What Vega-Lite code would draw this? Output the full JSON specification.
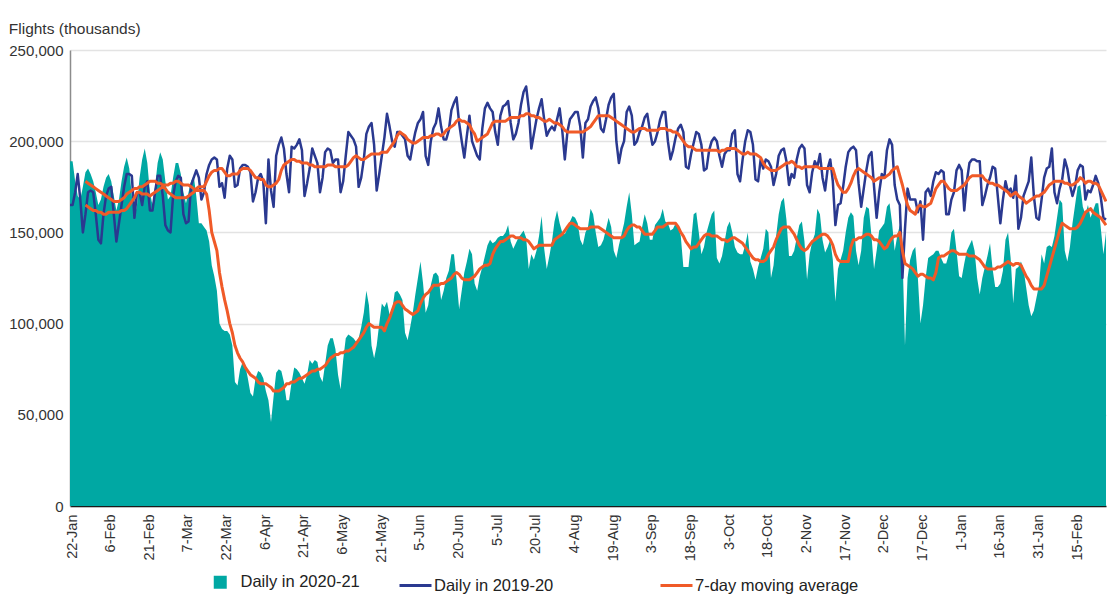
{
"$schema": "https://vega.github.io/schema/vega-lite/v6.json",
"width": 1036,
"height": 456,
"autosize": {"type": "none"},
"padding": {"left": 70, "top": 50, "right": 1, "bottom": 89},
"background": "white",
"title": {"text": "Flights (thousands)", "anchor": "start", "frame": "bounds", "font": "Liberation Sans, Arial, sans-serif", "fontSize": 15.5, "fontWeight": "normal", "color": "#333333", "baseline": "alphabetic", "offset": -6},
"data": {"values": [
{"d":"2020-01-22","a":189000,"b":165000},
{"d":"2020-01-23","a":189000,"b":165000},
{"d":"2020-01-24","a":178000,"b":172000},
{"d":"2020-01-25","a":170000,"b":182000},
{"d":"2020-01-26","a":168000,"b":168000},
{"d":"2020-01-27","a":175000,"b":150000},
{"d":"2020-01-28","a":183000,"b":160000,"ma":178000,"mb":165000},
{"d":"2020-01-29","a":185000,"b":172000,"ma":177000,"mb":164000},
{"d":"2020-01-30","a":182000,"b":173000,"ma":176000,"mb":163000},
{"d":"2020-01-31","a":178000,"b":172000,"ma":175000,"mb":162000},
{"d":"2020-02-01","a":172000,"b":160000,"ma":174000,"mb":162000},
{"d":"2020-02-02","a":165000,"b":146000,"ma":173000,"mb":161000},
{"d":"2020-02-03","a":168000,"b":144000,"ma":172000,"mb":161000},
{"d":"2020-02-04","a":175000,"b":160000,"ma":171000,"mb":160000},
{"d":"2020-02-05","a":180000,"b":170000,"ma":170000,"mb":160000},
{"d":"2020-02-06","a":182000,"b":174000,"ma":169000,"mb":161000},
{"d":"2020-02-07","a":178000,"b":175000,"ma":168000,"mb":161000},
{"d":"2020-02-08","a":170000,"b":160000,"ma":167000,"mb":161000},
{"d":"2020-02-09","a":162000,"b":145000,"ma":167000,"mb":161000},
{"d":"2020-02-10","a":168000,"b":155000,"ma":167000,"mb":161000},
{"d":"2020-02-11","a":178000,"b":165000,"ma":168000,"mb":162000},
{"d":"2020-02-12","a":186000,"b":175000,"ma":169000,"mb":162000},
{"d":"2020-02-13","a":191000,"b":182000,"ma":171000,"mb":163000},
{"d":"2020-02-14","a":185000,"b":182000,"ma":172000,"mb":165000},
{"d":"2020-02-15","a":170000,"b":181000,"ma":173000,"mb":167000},
{"d":"2020-02-16","a":158000,"b":158000,"ma":174000,"mb":169000},
{"d":"2020-02-17","a":165000,"b":172000,"ma":174000,"mb":172000},
{"d":"2020-02-18","a":180000,"b":172000,"ma":175000,"mb":172000},
{"d":"2020-02-19","a":190000,"b":165000,"ma":175000,"mb":171000},
{"d":"2020-02-20","a":196000,"b":175000,"ma":176000,"mb":171000},
{"d":"2020-02-21","a":188000,"b":178000,"ma":177000,"mb":171000},
{"d":"2020-02-22","a":172000,"b":162000,"ma":178000,"mb":170000},
{"d":"2020-02-23","a":165000,"b":162000,"ma":178000,"mb":171000},
{"d":"2020-02-24","a":175000,"b":172000,"ma":178000,"mb":172000},
{"d":"2020-02-25","a":188000,"b":181000,"ma":177000,"mb":173000},
{"d":"2020-02-26","a":194000,"b":181000,"ma":177000,"mb":174000},
{"d":"2020-02-27","a":190000,"b":170000,"ma":176000,"mb":175000},
{"d":"2020-02-28","a":178000,"b":154000,"ma":176000,"mb":174000},
{"d":"2020-02-29","a":168000,"b":151000,"ma":176000,"mb":172000},
{"d":"2020-03-01","a":170000,"b":150000,"ma":177000,"mb":171000},
{"d":"2020-03-02","a":180000,"b":170000,"ma":177000,"mb":170000},
{"d":"2020-03-03","a":188000,"b":178000,"ma":178000,"mb":169000},
{"d":"2020-03-04","a":188000,"b":181000,"ma":178000,"mb":169000},
{"d":"2020-03-05","a":182000,"b":180000,"ma":177000,"mb":169000},
{"d":"2020-03-06","a":172000,"b":160000,"ma":176000,"mb":169000},
{"d":"2020-03-07","a":166000,"b":155000,"ma":176000,"mb":169000},
{"d":"2020-03-08","a":172000,"b":156000,"ma":176000,"mb":170000},
{"d":"2020-03-09","a":178000,"b":176000,"ma":175000,"mb":171000},
{"d":"2020-03-10","a":181000,"b":180000,"ma":174000,"mb":172000},
{"d":"2020-03-11","a":170000,"b":184000,"ma":173000,"mb":174000},
{"d":"2020-03-12","a":155000,"b":180000,"ma":173000,"mb":175000},
{"d":"2020-03-13","a":155000,"b":168000,"ma":173000,"mb":175000},
{"d":"2020-03-14","a":153000,"b":172000,"ma":173000,"mb":175000},
{"d":"2020-03-15","a":151000,"b":182000,"ma":171000,"mb":178000},
{"d":"2020-03-16","a":145000,"b":187000,"ma":162000,"mb":181000},
{"d":"2020-03-17","a":132000,"b":190000,"ma":150000,"mb":183000},
{"d":"2020-03-18","a":126000,"b":191000,"ma":145000,"mb":184000},
{"d":"2020-03-19","a":118000,"b":190000,"ma":140000,"mb":184000},
{"d":"2020-03-20","a":100000,"b":175000,"ma":128000,"mb":185000},
{"d":"2020-03-21","a":97000,"b":177000,"ma":120000,"mb":185000},
{"d":"2020-03-22","a":96000,"b":169000,"ma":113000,"mb":183000},
{"d":"2020-03-23","a":96000,"b":185000,"ma":107000,"mb":181000},
{"d":"2020-03-24","a":94000,"b":192000,"ma":100000,"mb":181000},
{"d":"2020-03-25","a":88000,"b":190000,"ma":95000,"mb":182000},
{"d":"2020-03-26","a":68000,"b":175000,"ma":88000,"mb":182000},
{"d":"2020-03-27","a":66000,"b":176000,"ma":84000,"mb":182000},
{"d":"2020-03-28","a":75000,"b":185000,"ma":81000,"mb":184000},
{"d":"2020-03-29","a":79000,"b":187000,"ma":79000,"mb":185000},
{"d":"2020-03-30","a":77000,"b":187000,"ma":76000,"mb":185000},
{"d":"2020-03-31","a":70000,"b":186000,"ma":74000,"mb":185000},
{"d":"2020-04-01","a":62000,"b":183000,"ma":72000,"mb":184000},
{"d":"2020-04-02","a":60000,"b":167000,"ma":71000,"mb":182000},
{"d":"2020-04-03","a":70000,"b":172000,"ma":70000,"mb":180000},
{"d":"2020-04-04","a":74000,"b":180000,"ma":68000,"mb":180000},
{"d":"2020-04-05","a":73000,"b":182000,"ma":67000,"mb":179000},
{"d":"2020-04-06","a":70000,"b":178000,"ma":67000,"mb":179000},
{"d":"2020-04-07","a":63000,"b":155000,"ma":67000,"mb":176000},
{"d":"2020-04-08","a":58000,"b":190000,"ma":66000,"mb":175000},
{"d":"2020-04-09","a":46000,"b":173000,"ma":65000,"mb":175000},
{"d":"2020-04-10","a":60000,"b":164000,"ma":63000,"mb":176000},
{"d":"2020-04-11","a":73000,"b":192000,"ma":63000,"mb":177000},
{"d":"2020-04-12","a":75000,"b":198000,"ma":63000,"mb":179000},
{"d":"2020-04-13","a":74000,"b":202000,"ma":64000,"mb":184000},
{"d":"2020-04-14","a":68000,"b":196000,"ma":65000,"mb":187000},
{"d":"2020-04-15","a":58000,"b":182000,"ma":67000,"mb":188000},
{"d":"2020-04-16","a":58000,"b":172000,"ma":67000,"mb":189000},
{"d":"2020-04-17","a":68000,"b":197000,"ma":68000,"mb":190000},
{"d":"2020-04-18","a":76000,"b":196000,"ma":68000,"mb":190000},
{"d":"2020-04-19","a":75000,"b":198000,"ma":69000,"mb":189000},
{"d":"2020-04-20","a":73000,"b":201000,"ma":70000,"mb":189000},
{"d":"2020-04-21","a":70000,"b":195000,"ma":70000,"mb":188000},
{"d":"2020-04-22","a":67000,"b":170000,"ma":71000,"mb":188000},
{"d":"2020-04-23","a":72000,"b":177000,"ma":72000,"mb":188000},
{"d":"2020-04-24","a":80000,"b":185000,"ma":73000,"mb":187000},
{"d":"2020-04-25","a":78000,"b":196000,"ma":74000,"mb":187000},
{"d":"2020-04-26","a":80000,"b":192000,"ma":74000,"mb":186000},
{"d":"2020-04-27","a":79000,"b":188000,"ma":75000,"mb":186000},
{"d":"2020-04-28","a":71000,"b":172000,"ma":75000,"mb":186000},
{"d":"2020-04-29","a":68000,"b":180000,"ma":76000,"mb":186000},
{"d":"2020-04-30","a":78000,"b":194000,"ma":77000,"mb":186000},
{"d":"2020-05-01","a":88000,"b":196000,"ma":79000,"mb":187000},
{"d":"2020-05-02","a":92000,"b":195000,"ma":81000,"mb":187000},
{"d":"2020-05-03","a":92000,"b":188000,"ma":82000,"mb":187000},
{"d":"2020-05-04","a":86000,"b":190000,"ma":83000,"mb":186000},
{"d":"2020-05-05","a":72000,"b":190000,"ma":83000,"mb":186000},
{"d":"2020-05-06","a":64000,"b":172000,"ma":84000,"mb":186000},
{"d":"2020-05-07","a":80000,"b":178000,"ma":84000,"mb":186000},
{"d":"2020-05-08","a":92000,"b":192000,"ma":85000,"mb":186000},
{"d":"2020-05-09","a":94000,"b":205000,"ma":85000,"mb":187000},
{"d":"2020-05-10","a":93000,"b":203000,"ma":86000,"mb":189000},
{"d":"2020-05-11","a":92000,"b":201000,"ma":87000,"mb":191000},
{"d":"2020-05-12","a":90000,"b":197000,"ma":89000,"mb":192000},
{"d":"2020-05-13","a":92000,"b":175000,"ma":91000,"mb":191000},
{"d":"2020-05-14","a":98000,"b":180000,"ma":93000,"mb":190000},
{"d":"2020-05-15","a":106000,"b":190000,"ma":95000,"mb":190000},
{"d":"2020-05-16","a":118000,"b":204000,"ma":98000,"mb":191000},
{"d":"2020-05-17","a":110000,"b":208000,"ma":100000,"mb":192000},
{"d":"2020-05-18","a":88000,"b":210000,"ma":99000,"mb":193000},
{"d":"2020-05-19","a":81000,"b":198000,"ma":98000,"mb":193000},
{"d":"2020-05-20","a":88000,"b":173000,"ma":98000,"mb":193000},
{"d":"2020-05-21","a":100000,"b":182000,"ma":98000,"mb":193000},
{"d":"2020-05-22","a":111000,"b":192000,"ma":98000,"mb":194000},
{"d":"2020-05-23","a":109000,"b":202000,"ma":96000,"mb":194000},
{"d":"2020-05-24","a":112000,"b":215000,"ma":100000,"mb":194000},
{"d":"2020-05-25","a":105000,"b":208000,"ma":103000,"mb":196000},
{"d":"2020-05-26","a":107000,"b":200000,"ma":107000,"mb":198000},
{"d":"2020-05-27","a":117000,"b":197000,"ma":111000,"mb":200000},
{"d":"2020-05-28","a":118000,"b":205000,"ma":112000,"mb":203000},
{"d":"2020-05-29","a":116000,"b":205000,"ma":112000,"mb":205000},
{"d":"2020-05-30","a":113000,"b":203000,"ma":110000,"mb":204000},
{"d":"2020-05-31","a":95000,"b":201000,"ma":108000,"mb":203000},
{"d":"2020-06-01","a":91000,"b":192000,"ma":107000,"mb":201000},
{"d":"2020-06-02","a":98000,"b":190000,"ma":106000,"mb":200000},
{"d":"2020-06-03","a":106000,"b":198000,"ma":105000,"mb":199000},
{"d":"2020-06-04","a":116000,"b":205000,"ma":106000,"mb":199000},
{"d":"2020-06-05","a":125000,"b":210000,"ma":107000,"mb":200000},
{"d":"2020-06-06","a":134000,"b":212000,"ma":111000,"mb":201000},
{"d":"2020-06-07","a":122000,"b":216000,"ma":114000,"mb":202000},
{"d":"2020-06-08","a":106000,"b":192000,"ma":116000,"mb":202000},
{"d":"2020-06-09","a":110000,"b":187000,"ma":117000,"mb":202000},
{"d":"2020-06-10","a":121000,"b":200000,"ma":119000,"mb":203000},
{"d":"2020-06-11","a":127000,"b":207000,"ma":121000,"mb":203000},
{"d":"2020-06-12","a":128000,"b":210000,"ma":121000,"mb":204000},
{"d":"2020-06-13","a":126000,"b":218000,"ma":121000,"mb":204000},
{"d":"2020-06-14","a":113000,"b":208000,"ma":122000,"mb":203000},
{"d":"2020-06-15","a":118000,"b":201000,"ma":122000,"mb":204000},
{"d":"2020-06-16","a":125000,"b":201000,"ma":123000,"mb":206000},
{"d":"2020-06-17","a":129000,"b":206000,"ma":124000,"mb":207000},
{"d":"2020-06-18","a":138000,"b":217000,"ma":125000,"mb":208000},
{"d":"2020-06-19","a":138000,"b":221000,"ma":127000,"mb":209000},
{"d":"2020-06-20","a":124000,"b":224000,"ma":128000,"mb":211000},
{"d":"2020-06-21","a":108000,"b":210000,"ma":127000,"mb":212000},
{"d":"2020-06-22","a":118000,"b":200000,"ma":125000,"mb":211000},
{"d":"2020-06-23","a":128000,"b":191000,"ma":124000,"mb":211000},
{"d":"2020-06-24","a":134000,"b":203000,"ma":124000,"mb":210000},
{"d":"2020-06-25","a":141000,"b":214000,"ma":124000,"mb":209000},
{"d":"2020-06-26","a":138000,"b":200000,"ma":125000,"mb":206000},
{"d":"2020-06-27","a":122000,"b":196000,"ma":126000,"mb":204000},
{"d":"2020-06-28","a":118000,"b":192000,"ma":128000,"mb":200000},
{"d":"2020-06-29","a":126000,"b":190000,"ma":130000,"mb":201000},
{"d":"2020-06-30","a":131000,"b":207000,"ma":131000,"mb":202000},
{"d":"2020-07-01","a":137000,"b":218000,"ma":132000,"mb":203000},
{"d":"2020-07-02","a":143000,"b":221000,"ma":132000,"mb":204000},
{"d":"2020-07-03","a":146000,"b":218000,"ma":133000,"mb":207000},
{"d":"2020-07-04","a":144000,"b":216000,"ma":138000,"mb":210000},
{"d":"2020-07-05","a":145000,"b":205000,"ma":141000,"mb":211000},
{"d":"2020-07-06","a":147000,"b":198000,"ma":143000,"mb":211000},
{"d":"2020-07-07","a":148000,"b":214000,"ma":145000,"mb":211000},
{"d":"2020-07-08","a":148000,"b":219000,"ma":145000,"mb":211000},
{"d":"2020-07-09","a":150000,"b":220000,"ma":146000,"mb":211000},
{"d":"2020-07-10","a":154000,"b":222000,"ma":147000,"mb":212000},
{"d":"2020-07-11","a":145000,"b":210000,"ma":148000,"mb":213000},
{"d":"2020-07-12","a":141000,"b":201000,"ma":148000,"mb":213000},
{"d":"2020-07-13","a":144000,"b":204000,"ma":147000,"mb":213000},
{"d":"2020-07-14","a":147000,"b":210000,"ma":147000,"mb":213000},
{"d":"2020-07-15","a":149000,"b":220000,"ma":147000,"mb":214000},
{"d":"2020-07-16","a":151000,"b":227000,"ma":146000,"mb":214000},
{"d":"2020-07-17","a":147000,"b":230000,"ma":146000,"mb":215000},
{"d":"2020-07-18","a":130000,"b":218000,"ma":145000,"mb":215000},
{"d":"2020-07-19","a":138000,"b":196000,"ma":143000,"mb":214000},
{"d":"2020-07-20","a":135000,"b":204000,"ma":141000,"mb":214000},
{"d":"2020-07-21","a":140000,"b":212000,"ma":142000,"mb":213000},
{"d":"2020-07-22","a":148000,"b":218000,"ma":143000,"mb":213000},
{"d":"2020-07-23","a":159000,"b":223000,"ma":143000,"mb":212000},
{"d":"2020-07-24","a":141000,"b":212000,"ma":143000,"mb":211000},
{"d":"2020-07-25","a":130000,"b":203000,"ma":143000,"mb":211000},
{"d":"2020-07-26","a":137000,"b":206000,"ma":143000,"mb":212000},
{"d":"2020-07-27","a":145000,"b":208000,"ma":143000,"mb":211000},
{"d":"2020-07-28","a":156000,"b":206000,"ma":146000,"mb":210000},
{"d":"2020-07-29","a":162000,"b":212000,"ma":147000,"mb":210000},
{"d":"2020-07-30","a":155000,"b":218000,"ma":148000,"mb":209000},
{"d":"2020-07-31","a":150000,"b":206000,"ma":149000,"mb":208000},
{"d":"2020-08-01","a":149000,"b":190000,"ma":151000,"mb":206000},
{"d":"2020-08-02","a":152000,"b":205000,"ma":153000,"mb":205000},
{"d":"2020-08-03","a":156000,"b":212000,"ma":155000,"mb":205000},
{"d":"2020-08-04","a":159000,"b":214000,"ma":155000,"mb":205000},
{"d":"2020-08-05","a":158000,"b":216000,"ma":154000,"mb":205000},
{"d":"2020-08-06","a":155000,"b":216000,"ma":153000,"mb":205000},
{"d":"2020-08-07","a":146000,"b":208000,"ma":152000,"mb":205000},
{"d":"2020-08-08","a":143000,"b":191000,"ma":152000,"mb":205000},
{"d":"2020-08-09","a":150000,"b":210000,"ma":152000,"mb":206000},
{"d":"2020-08-10","a":153000,"b":212000,"ma":152000,"mb":207000},
{"d":"2020-08-11","a":163000,"b":219000,"ma":153000,"mb":208000},
{"d":"2020-08-12","a":160000,"b":222000,"ma":153000,"mb":210000},
{"d":"2020-08-13","a":150000,"b":224000,"ma":153000,"mb":212000},
{"d":"2020-08-14","a":142000,"b":218000,"ma":153000,"mb":214000},
{"d":"2020-08-15","a":143000,"b":207000,"ma":152000,"mb":214000},
{"d":"2020-08-16","a":146000,"b":205000,"ma":151000,"mb":214000},
{"d":"2020-08-17","a":152000,"b":212000,"ma":150000,"mb":214000},
{"d":"2020-08-18","a":158000,"b":220000,"ma":149000,"mb":214000},
{"d":"2020-08-19","a":153000,"b":224000,"ma":148000,"mb":213000},
{"d":"2020-08-20","a":140000,"b":226000,"ma":147000,"mb":212000},
{"d":"2020-08-21","a":136000,"b":200000,"ma":147000,"mb":211000},
{"d":"2020-08-22","a":143000,"b":188000,"ma":147000,"mb":210000},
{"d":"2020-08-23","a":149000,"b":196000,"ma":147000,"mb":209000},
{"d":"2020-08-24","a":155000,"b":200000,"ma":148000,"mb":208000},
{"d":"2020-08-25","a":164000,"b":216000,"ma":151000,"mb":207000},
{"d":"2020-08-26","a":172000,"b":219000,"ma":153000,"mb":206000},
{"d":"2020-08-27","a":160000,"b":214000,"ma":154000,"mb":205000},
{"d":"2020-08-28","a":143000,"b":198000,"ma":154000,"mb":205000},
{"d":"2020-08-29","a":144000,"b":200000,"ma":153000,"mb":206000},
{"d":"2020-08-30","a":145000,"b":205000,"ma":153000,"mb":207000},
{"d":"2020-08-31","a":153000,"b":208000,"ma":151000,"mb":207000},
{"d":"2020-09-01","a":160000,"b":213000,"ma":149000,"mb":207000},
{"d":"2020-09-02","a":155000,"b":215000,"ma":149000,"mb":206000},
{"d":"2020-09-03","a":146000,"b":206000,"ma":149000,"mb":206000},
{"d":"2020-09-04","a":146000,"b":198000,"ma":149000,"mb":206000},
{"d":"2020-09-05","a":154000,"b":200000,"ma":151000,"mb":206000},
{"d":"2020-09-06","a":156000,"b":205000,"ma":153000,"mb":206000},
{"d":"2020-09-07","a":158000,"b":212000,"ma":153000,"mb":207000},
{"d":"2020-09-08","a":163000,"b":216000,"ma":153000,"mb":207000},
{"d":"2020-09-09","a":156000,"b":216000,"ma":154000,"mb":207000},
{"d":"2020-09-10","a":155000,"b":200000,"ma":155000,"mb":206000},
{"d":"2020-09-11","a":151000,"b":190000,"ma":155000,"mb":206000},
{"d":"2020-09-12","a":152000,"b":195000,"ma":155000,"mb":205000},
{"d":"2020-09-13","a":155000,"b":202000,"ma":155000,"mb":205000},
{"d":"2020-09-14","a":153000,"b":207000,"ma":153000,"mb":204000},
{"d":"2020-09-15","a":148000,"b":209000,"ma":150000,"mb":202000},
{"d":"2020-09-16","a":131000,"b":205000,"ma":148000,"mb":200000},
{"d":"2020-09-17","a":131000,"b":186000,"ma":145000,"mb":198000},
{"d":"2020-09-18","a":131000,"b":185000,"ma":143000,"mb":197000},
{"d":"2020-09-19","a":145000,"b":193000,"ma":141000,"mb":197000},
{"d":"2020-09-20","a":160000,"b":199000,"ma":142000,"mb":196000},
{"d":"2020-09-21","a":161000,"b":205000,"ma":142000,"mb":195000},
{"d":"2020-09-22","a":150000,"b":204000,"ma":144000,"mb":195000},
{"d":"2020-09-23","a":138000,"b":198000,"ma":146000,"mb":195000},
{"d":"2020-09-24","a":142000,"b":184000,"ma":148000,"mb":195000},
{"d":"2020-09-25","a":150000,"b":185000,"ma":149000,"mb":195000},
{"d":"2020-09-26","a":155000,"b":195000,"ma":149000,"mb":195000},
{"d":"2020-09-27","a":160000,"b":200000,"ma":148000,"mb":195000},
{"d":"2020-09-28","a":162000,"b":202000,"ma":148000,"mb":195000},
{"d":"2020-09-29","a":136000,"b":200000,"ma":148000,"mb":195000},
{"d":"2020-09-30","a":133000,"b":192000,"ma":147000,"mb":194000},
{"d":"2020-10-01","a":137000,"b":186000,"ma":146000,"mb":195000},
{"d":"2020-10-02","a":145000,"b":193000,"ma":146000,"mb":195000},
{"d":"2020-10-03","a":153000,"b":195000,"ma":145000,"mb":196000},
{"d":"2020-10-04","a":156000,"b":195000,"ma":146000,"mb":196000},
{"d":"2020-10-05","a":150000,"b":204000,"ma":147000,"mb":196000},
{"d":"2020-10-06","a":142000,"b":206000,"ma":147000,"mb":196000},
{"d":"2020-10-07","a":139000,"b":182000,"ma":146000,"mb":195000},
{"d":"2020-10-08","a":138000,"b":178000,"ma":145000,"mb":194000},
{"d":"2020-10-09","a":138000,"b":190000,"ma":144000,"mb":193000},
{"d":"2020-10-10","a":143000,"b":200000,"ma":142000,"mb":193000},
{"d":"2020-10-11","a":150000,"b":206000,"ma":140000,"mb":194000},
{"d":"2020-10-12","a":134000,"b":205000,"ma":138000,"mb":193000},
{"d":"2020-10-13","a":130000,"b":198000,"ma":136000,"mb":193000},
{"d":"2020-10-14","a":124000,"b":179000,"ma":135000,"mb":193000},
{"d":"2020-10-15","a":131000,"b":178000,"ma":135000,"mb":192000},
{"d":"2020-10-16","a":136000,"b":190000,"ma":134000,"mb":191000},
{"d":"2020-10-17","a":141000,"b":185000,"ma":134000,"mb":188000},
{"d":"2020-10-18","a":152000,"b":190000,"ma":135000,"mb":186000},
{"d":"2020-10-19","a":150000,"b":189000,"ma":138000,"mb":185000},
{"d":"2020-10-20","a":125000,"b":186000,"ma":140000,"mb":184000},
{"d":"2020-10-21","a":132000,"b":176000,"ma":142000,"mb":184000},
{"d":"2020-10-22","a":148000,"b":182000,"ma":146000,"mb":184000},
{"d":"2020-10-23","a":160000,"b":192000,"ma":149000,"mb":185000},
{"d":"2020-10-24","a":167000,"b":195000,"ma":152000,"mb":186000},
{"d":"2020-10-25","a":169000,"b":196000,"ma":153000,"mb":187000},
{"d":"2020-10-26","a":157000,"b":189000,"ma":153000,"mb":188000},
{"d":"2020-10-27","a":137000,"b":176000,"ma":153000,"mb":188000},
{"d":"2020-10-28","a":137000,"b":182000,"ma":151000,"mb":189000},
{"d":"2020-10-29","a":140000,"b":180000,"ma":149000,"mb":188000},
{"d":"2020-10-30","a":147000,"b":190000,"ma":146000,"mb":186000},
{"d":"2020-10-31","a":154000,"b":196000,"ma":143000,"mb":186000},
{"d":"2020-11-01","a":156000,"b":198000,"ma":141000,"mb":185000},
{"d":"2020-11-02","a":145000,"b":196000,"ma":140000,"mb":186000},
{"d":"2020-11-03","a":124000,"b":176000,"ma":141000,"mb":186000},
{"d":"2020-11-04","a":138000,"b":172000,"ma":143000,"mb":186000},
{"d":"2020-11-05","a":145000,"b":183000,"ma":145000,"mb":186000},
{"d":"2020-11-06","a":149000,"b":189000,"ma":146000,"mb":186000},
{"d":"2020-11-07","a":163000,"b":186000,"ma":147000,"mb":186000},
{"d":"2020-11-08","a":160000,"b":193000,"ma":148000,"mb":185000},
{"d":"2020-11-09","a":146000,"b":180000,"ma":149000,"mb":185000},
{"d":"2020-11-10","a":139000,"b":173000,"ma":149000,"mb":185000},
{"d":"2020-11-11","a":142000,"b":185000,"ma":148000,"mb":185000},
{"d":"2020-11-12","a":146000,"b":190000,"ma":146000,"mb":185000},
{"d":"2020-11-13","a":135000,"b":178000,"ma":143000,"mb":185000},
{"d":"2020-11-14","a":112000,"b":154000,"ma":138000,"mb":180000},
{"d":"2020-11-15","a":130000,"b":165000,"ma":135000,"mb":176000},
{"d":"2020-11-16","a":135000,"b":166000,"ma":134000,"mb":174000},
{"d":"2020-11-17","a":140000,"b":175000,"ma":134000,"mb":172000},
{"d":"2020-11-18","a":150000,"b":186000,"ma":134000,"mb":172000},
{"d":"2020-11-19","a":158000,"b":194000,"ma":134000,"mb":174000},
{"d":"2020-11-20","a":161000,"b":196000,"ma":142000,"mb":177000},
{"d":"2020-11-21","a":159000,"b":197000,"ma":146000,"mb":181000},
{"d":"2020-11-22","a":140000,"b":195000,"ma":146000,"mb":184000},
{"d":"2020-11-23","a":132000,"b":177000,"ma":147000,"mb":185000},
{"d":"2020-11-24","a":140000,"b":164000,"ma":147000,"mb":184000},
{"d":"2020-11-25","a":158000,"b":174000,"ma":148000,"mb":183000},
{"d":"2020-11-26","a":164000,"b":184000,"ma":149000,"mb":182000},
{"d":"2020-11-27","a":163000,"b":192000,"ma":149000,"mb":181000},
{"d":"2020-11-28","a":148000,"b":194000,"ma":148000,"mb":180000},
{"d":"2020-11-29","a":130000,"b":175000,"ma":146000,"mb":178000},
{"d":"2020-11-30","a":140000,"b":158000,"ma":146000,"mb":179000},
{"d":"2020-12-01","a":151000,"b":172000,"ma":145000,"mb":180000},
{"d":"2020-12-02","a":153000,"b":182000,"ma":143000,"mb":180000},
{"d":"2020-12-03","a":155000,"b":180000,"ma":141000,"mb":180000},
{"d":"2020-12-04","a":164000,"b":195000,"ma":142000,"mb":181000},
{"d":"2020-12-05","a":166000,"b":201000,"ma":145000,"mb":182000},
{"d":"2020-12-06","a":155000,"b":198000,"ma":147000,"mb":184000},
{"d":"2020-12-07","a":140000,"b":176000,"ma":148000,"mb":185000},
{"d":"2020-12-08","a":148000,"b":168000,"ma":148000,"mb":186000},
{"d":"2020-12-09","a":154000,"b":165000,"ma":150000,"mb":181000},
{"d":"2020-12-10","a":140000,"b":125000,"ma":140000,"mb":176000},
{"d":"2020-12-11","a":88000,"b":152000,"ma":133000,"mb":170000},
{"d":"2020-12-12","a":125000,"b":174000,"ma":132000,"mb":165000},
{"d":"2020-12-13","a":135000,"b":168000,"ma":131000,"mb":162000},
{"d":"2020-12-14","a":140000,"b":168000,"ma":130000,"mb":161000},
{"d":"2020-12-15","a":142000,"b":168000,"ma":128000,"mb":160000},
{"d":"2020-12-16","a":125000,"b":161000,"ma":126000,"mb":164000},
{"d":"2020-12-17","a":100000,"b":167000,"ma":127000,"mb":165000},
{"d":"2020-12-18","a":110000,"b":146000,"ma":127000,"mb":164000},
{"d":"2020-12-19","a":125000,"b":172000,"ma":126000,"mb":164000},
{"d":"2020-12-20","a":136000,"b":174000,"ma":125000,"mb":165000},
{"d":"2020-12-21","a":137000,"b":170000,"ma":125000,"mb":166000},
{"d":"2020-12-22","a":138000,"b":178000,"ma":124000,"mb":170000},
{"d":"2020-12-23","a":140000,"b":183000,"ma":128000,"mb":174000},
{"d":"2020-12-24","a":140000,"b":182000,"ma":136000,"mb":176000},
{"d":"2020-12-25","a":136000,"b":184000,"ma":137000,"mb":178000},
{"d":"2020-12-26","a":133000,"b":183000,"ma":137000,"mb":178000},
{"d":"2020-12-27","a":133000,"b":160000,"ma":138000,"mb":176000},
{"d":"2020-12-28","a":138000,"b":160000,"ma":139000,"mb":174000},
{"d":"2020-12-29","a":150000,"b":168000,"ma":140000,"mb":173000},
{"d":"2020-12-30","a":152000,"b":172000,"ma":140000,"mb":173000},
{"d":"2020-12-31","a":140000,"b":184000,"ma":139000,"mb":173000},
{"d":"2021-01-01","a":126000,"b":187000,"ma":138000,"mb":174000},
{"d":"2021-01-02","a":125000,"b":184000,"ma":138000,"mb":175000},
{"d":"2021-01-03","a":133000,"b":162000,"ma":138000,"mb":176000},
{"d":"2021-01-04","a":140000,"b":178000,"ma":138000,"mb":178000},
{"d":"2021-01-05","a":143000,"b":188000,"ma":137000,"mb":180000},
{"d":"2021-01-06","a":146000,"b":190000,"ma":137000,"mb":181000},
{"d":"2021-01-07","a":140000,"b":190000,"ma":137000,"mb":181000},
{"d":"2021-01-08","a":125000,"b":189000,"ma":136000,"mb":181000},
{"d":"2021-01-09","a":116000,"b":189000,"ma":135000,"mb":181000},
{"d":"2021-01-10","a":125000,"b":165000,"ma":133000,"mb":181000},
{"d":"2021-01-11","a":131000,"b":170000,"ma":131000,"mb":179000},
{"d":"2021-01-12","a":137000,"b":176000,"ma":130000,"mb":178000},
{"d":"2021-01-13","a":144000,"b":180000,"ma":130000,"mb":177000},
{"d":"2021-01-14","a":130000,"b":186000,"ma":130000,"mb":177000},
{"d":"2021-01-15","a":120000,"b":185000,"ma":130000,"mb":176000},
{"d":"2021-01-16","a":120000,"b":170000,"ma":131000,"mb":176000},
{"d":"2021-01-17","a":122000,"b":155000,"ma":131000,"mb":175000},
{"d":"2021-01-18","a":129000,"b":168000,"ma":132000,"mb":174000},
{"d":"2021-01-19","a":146000,"b":178000,"ma":133000,"mb":173000},
{"d":"2021-01-20","a":150000,"b":172000,"ma":134000,"mb":172000},
{"d":"2021-01-21","a":136000,"b":174000,"ma":133000,"mb":170000},
{"d":"2021-01-22","a":111000,"b":169000,"ma":132000,"mb":171000},
{"d":"2021-01-23","a":130000,"b":181000,"ma":133000,"mb":172000},
{"d":"2021-01-24","a":131000,"b":152000,"ma":133000,"mb":170000},
{"d":"2021-01-25","a":134000,"b":158000,"ma":132000,"mb":169000},
{"d":"2021-01-26","a":130000,"b":170000,"ma":129000,"mb":168000},
{"d":"2021-01-27","a":120000,"b":174000,"ma":126000,"mb":166000},
{"d":"2021-01-28","a":110000,"b":178000,"ma":124000,"mb":167000},
{"d":"2021-01-29","a":104000,"b":191000,"ma":121000,"mb":168000},
{"d":"2021-01-30","a":107000,"b":170000,"ma":119000,"mb":169000},
{"d":"2021-01-31","a":114000,"b":158000,"ma":119000,"mb":170000},
{"d":"2021-02-01","a":121000,"b":157000,"ma":119000,"mb":170000},
{"d":"2021-02-02","a":138000,"b":168000,"ma":119000,"mb":171000},
{"d":"2021-02-03","a":133000,"b":180000,"ma":121000,"mb":172000},
{"d":"2021-02-04","a":142000,"b":185000,"ma":126000,"mb":174000},
{"d":"2021-02-05","a":143000,"b":186000,"ma":131000,"mb":176000},
{"d":"2021-02-06","a":142000,"b":196000,"ma":136000,"mb":177000},
{"d":"2021-02-07","a":148000,"b":172000,"ma":141000,"mb":178000},
{"d":"2021-02-08","a":158000,"b":166000,"ma":146000,"mb":178000},
{"d":"2021-02-09","a":168000,"b":174000,"ma":151000,"mb":178000},
{"d":"2021-02-10","a":166000,"b":179000,"ma":155000,"mb":178000},
{"d":"2021-02-11","a":140000,"b":190000,"ma":154000,"mb":177000},
{"d":"2021-02-12","a":134000,"b":185000,"ma":153000,"mb":177000},
{"d":"2021-02-13","a":142000,"b":176000,"ma":152000,"mb":176000},
{"d":"2021-02-14","a":155000,"b":170000,"ma":152000,"mb":176000},
{"d":"2021-02-15","a":165000,"b":175000,"ma":152000,"mb":177000},
{"d":"2021-02-16","a":175000,"b":184000,"ma":153000,"mb":178000},
{"d":"2021-02-17","a":176000,"b":187000,"ma":155000,"mb":180000},
{"d":"2021-02-18","a":164000,"b":186000,"ma":158000,"mb":179000},
{"d":"2021-02-19","a":160000,"b":168000,"ma":161000,"mb":177000},
{"d":"2021-02-20","a":165000,"b":173000,"ma":162000,"mb":178000},
{"d":"2021-02-21","a":158000,"b":172000,"ma":163000,"mb":178000},
{"d":"2021-02-22","a":162000,"b":176000,"ma":161000,"mb":177000},
{"d":"2021-02-23","a":166000,"b":181000,"ma":160000,"mb":177000},
{"d":"2021-02-24","a":166000,"b":177000,"ma":159000,"mb":176000},
{"d":"2021-02-25","a":152000,"b":169000,"ma":158000,"mb":173000},
{"d":"2021-02-26","a":138000,"b":158000,"ma":156000,"mb":170000},
{"d":"2021-02-27","a":150000,"b":157000,"ma":154000,"mb":167000}
]},
"encoding": {
  "x": {"field": "d", "type": "temporal", "title": null,
    "scale": {"type": "utc", "nice": false},
    "axis": {"labelExpr": "utcFormat(datum.value, '%-d-%b')", "labelAngle": -90, "labelOffset": 2,
      "values": [
        {"year": 2020, "month": 1, "date": 22, "utc": true},
        {"year": 2020, "month": 2, "date": 6, "utc": true},
        {"year": 2020, "month": 2, "date": 21, "utc": true},
        {"year": 2020, "month": 3, "date": 7, "utc": true},
        {"year": 2020, "month": 3, "date": 22, "utc": true},
        {"year": 2020, "month": 4, "date": 6, "utc": true},
        {"year": 2020, "month": 4, "date": 21, "utc": true},
        {"year": 2020, "month": 5, "date": 6, "utc": true},
        {"year": 2020, "month": 5, "date": 21, "utc": true},
        {"year": 2020, "month": 6, "date": 5, "utc": true},
        {"year": 2020, "month": 6, "date": 20, "utc": true},
        {"year": 2020, "month": 7, "date": 5, "utc": true},
        {"year": 2020, "month": 7, "date": 20, "utc": true},
        {"year": 2020, "month": 8, "date": 4, "utc": true},
        {"year": 2020, "month": 8, "date": 19, "utc": true},
        {"year": 2020, "month": 9, "date": 3, "utc": true},
        {"year": 2020, "month": 9, "date": 18, "utc": true},
        {"year": 2020, "month": 10, "date": 3, "utc": true},
        {"year": 2020, "month": 10, "date": 18, "utc": true},
        {"year": 2020, "month": 11, "date": 2, "utc": true},
        {"year": 2020, "month": 11, "date": 17, "utc": true},
        {"year": 2020, "month": 12, "date": 2, "utc": true},
        {"year": 2020, "month": 12, "date": 17, "utc": true},
        {"year": 2021, "month": 1, "date": 1, "utc": true},
        {"year": 2021, "month": 1, "date": 16, "utc": true},
        {"year": 2021, "month": 1, "date": 31, "utc": true},
        {"year": 2021, "month": 2, "date": 15, "utc": true}
      ]}
  }
},
"layer": [
  {"mark": {"type": "area", "interpolate": "linear"},
   "encoding": {
     "y": {"field": "a", "type": "quantitative", "title": null,
       "scale": {"domain": [0, 250000], "nice": false},
       "axis": {"values": [0, 50000, 100000, 150000, 200000, 250000], "format": ",d"}},
     "fill": {"datum": "Daily in 2020-21", "type": "nominal",
       "scale": {"domain": ["Daily in 2020-21"], "range": ["#00a8a3"]},
       "legend": {"orient": "none", "legendX": 142, "legendY": 524, "direction": "horizontal", "title": null,
         "symbolType": "square", "symbolSize": 169, "symbolStrokeWidth": 0, "labelOffset": 12}}
   }},
  {"mark": {"type": "line", "strokeWidth": 2.5, "strokeJoin": "round"},
   "encoding": {
     "y": {"field": "b", "type": "quantitative", "title": null},
     "stroke": {"datum": "Daily in 2019-20", "type": "nominal",
       "scale": {"domain": ["Daily in 2019-20", "7-day moving average"], "range": ["#2a3990", "#f05a28"]},
       "legend": {"orient": "none", "legendX": 328, "legendY": 518, "direction": "horizontal", "title": null,
         "symbolType": "stroke", "symbolSize": 1024, "symbolStrokeWidth": 3, "labelOffset": 1, "columnPadding": 100}}
   }},
  {"mark": {"type": "line", "strokeWidth": 3, "strokeJoin": "round"},
   "encoding": {
     "y": {"field": "mb", "type": "quantitative", "title": null},
     "stroke": {"datum": "7-day moving average", "type": "nominal"}
   }},
  {"mark": {"type": "line", "strokeWidth": 3, "strokeJoin": "round"},
   "encoding": {
     "y": {"field": "ma", "type": "quantitative", "title": null},
     "stroke": {"datum": "7-day moving average", "type": "nominal"}
   }}
],
"config": {
  "view": {"stroke": null},
  "axis": {"labelFont": "Liberation Sans, Arial, sans-serif", "labelFontSize": 15, "labelColor": "#333333", "ticks": false},
  "axisY": {"grid": true, "gridColor": "#e3e3e3", "gridWidth": 1.5, "domainColor": "#8c8c8c", "domainWidth": 1.5, "labelPadding": 7},
  "axisX": {"grid": false, "domainColor": "#1a1a1a", "domainWidth": 1.5, "labelPadding": 8, "labelOverlap": false, "labelBound": false, "zindex": 1, "labelFontSize": 14.5},
  "legend": {"labelFont": "Liberation Sans, Arial, sans-serif", "labelFontSize": 16.5, "labelColor": "#222222", "labelLimit": 0, "padding": 0}
}
}
